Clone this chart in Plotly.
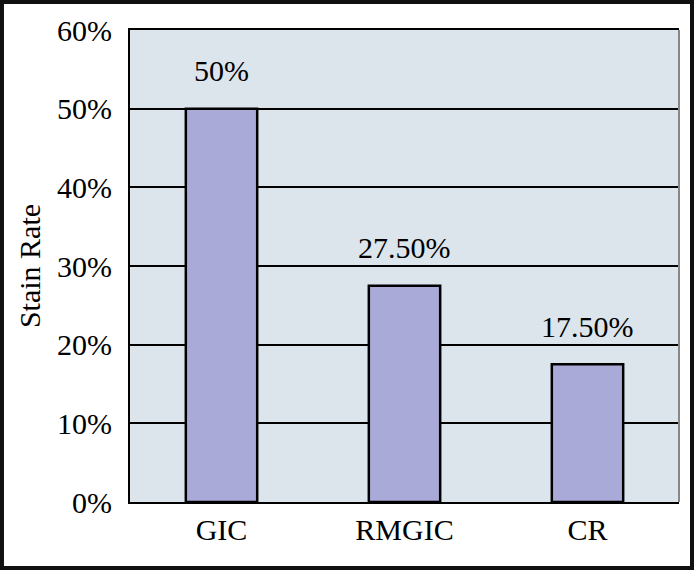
import plotly.graph_objects as go

categories = ["GIC", "RMGIC", "CR"]
stain_rate = [50, 27.5, 17.5]
bar_labels = ["50%", "27.50%", "17.50%"]
y_ticks = [0, 10, 20, 30, 40, 50, 60]
y_ticktext = ["0%", "10%", "20%", "30%", "40%", "50%", "60%"]

FONT = "Liberation Serif"

fig = go.Figure()
fig.add_trace(go.Bar(
    x=categories,
    y=stain_rate,
    marker=dict(color="#A9AAD8", line=dict(color="black", width=2.5)),
    width=0.39,
))

# value labels above each bar
for c, v, t in zip(categories, stain_rate, bar_labels):
    fig.add_annotation(x=c, y=v, text=t, showarrow=False, yshift=38,
                       font=dict(family=FONT, size=30, color="black"))

# outer frame around the whole picture
fig.add_shape(type="rect", xref="paper", yref="paper",
              x0=-0.2332, x1=1.0237, y0=-0.1398, y1=1.0593,
              line=dict(color="#111111", width=4), layer="below")

fig.update_layout(
    width=694, height=570,
    margin=dict(l=130, r=15, t=30, b=68),
    paper_bgcolor="white",
    plot_bgcolor="#DCE5EC",
    showlegend=False,
    bargap=0.61,
    font=dict(family=FONT, size=30, color="black"),
    xaxis=dict(
        showline=True, linecolor="black", linewidth=2, mirror=True,
        ticks="", tickfont=dict(family=FONT, size=30),
    ),
    yaxis=dict(
        range=[0, 60], tickvals=y_ticks, ticktext=y_ticktext,
        showgrid=True, gridcolor="black", gridwidth=2,
        showline=True, linecolor="black", linewidth=2,
        zeroline=False, ticks="", ticklabelstandoff=10,
        tickfont=dict(family=FONT, size=30),
        title=dict(text="Stain Rate", font=dict(family=FONT, size=30), standoff=8),
    ),
)

# right edge of plot area (gray)
fig.add_shape(type="line", xref="paper", yref="paper", x0=1, x1=1, y0=0, y1=1,
              line=dict(color="#888888", width=2))

fig.write_html("out.html", config={"displayModeBar": False},
               post_script="document.body.style.margin='0';")
